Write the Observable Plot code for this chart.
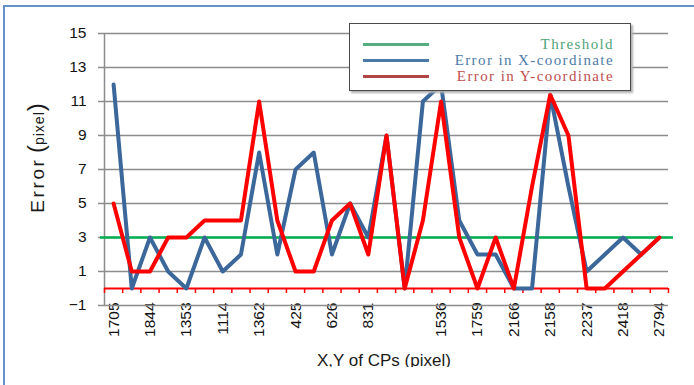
<!DOCTYPE html>
<html><head><meta charset="utf-8">
<script src="https://cdn.jsdelivr.net/npm/d3@7"></script>
<script src="https://cdn.jsdelivr.net/npm/@observablehq/plot@0.6"></script>
<style>
body{margin:0;background:#fff;}
#wrap{position:relative;width:694px;height:385px;overflow:hidden;background:#fff;font-family:"Liberation Sans",sans-serif;color:#111;}
#wrap svg{position:absolute;left:0;top:0;}
#frame{position:absolute;left:3px;top:5px;width:720px;height:420px;border-left:2px solid #6690c8;border-top:2px solid #6690c8;}
#legend{position:absolute;left:349px;top:23px;width:280px;height:66px;background:#fff;border:1.5px solid #4a4a4a;box-shadow:2px 2px 2px #b0b0b0;}
#legend .ln{position:absolute;left:13px;width:66px;height:3px;}
#legend .tx{position:absolute;right:16px;font-family:"Liberation Serif",serif;font-size:15px;letter-spacing:1.4px;line-height:16px;white-space:nowrap;opacity:.9;}
#ytitle{position:absolute;left:36px;top:158px;transform:translate(-50%,-50%) rotate(-90deg);white-space:nowrap;color:#1a1a1a;}
#xtitle{position:absolute;left:317px;top:351px;height:16px;overflow:hidden;font-size:17px;line-height:20px;white-space:nowrap;color:#1a1a1a;}
</style>
</head><body>
<div id="wrap">
  <div id="frame"></div>
  <div id="ytitle"><span style="font-size:19px;letter-spacing:2.6px">Error</span> <span style="font-size:24px">(</span><span style="font-size:14px;letter-spacing:1px">pixel</span><span style="font-size:24px">)</span></div>
  <div id="xtitle">X,Y of CPs (pixel)</div>
</div>
<script>
const tickLabels = ["1705","1844","1353","1114","1362","425","626","831","","1536","1759","2166","2158","2237","2418","2794"];
const errorX = [12,0,3,1,0,3,1,2,8,2,7,8,2,5,3,9,0,11,12,4,2,2,0,0,11.4,6,1,2,3,2,3];
const errorY = [5,1,1,3,3,4,4,4,11,4,1,1,4,5,2,9,0,4,11,3,0,3,0,6,11.4,9,0,0,1,2,3];
const threshold = 3;
const yTicks = [-1,1,3,5,7,9,11,13,15];
const seriesNames = ["Threshold","Error in X-coordinate","Error in Y-coordinate"];
const seriesColors = ["#00b050","#3b679a","#ff0000"];
const legendLineColors = ["#55ad80","#4a7ba6","#b04545"];
const legendTextColors = ["#3c9a68","#3a6e9e","#b83a3a"];

const n = errorX.length;
const idx = d3.range(1, n + 1);
const rows = idx.map(i => ({i, ex: errorX[i-1], ey: errorY[i-1]}));
const boundaries = d3.range(0, n + 1).map(k => k + 0.5);

const chart = Plot.plot({
  width: 694, height: 385,
  marginTop: 33, marginBottom: 80, marginLeft: 104, marginRight: 26,
  style: {fontFamily: "Liberation Sans, sans-serif", fontSize: "15.5px", color: "#111", background: "transparent", overflow: "visible"},
  x: {domain: [0.5, n + 0.5], ticks: idx.filter(i => i % 2 === 1), tickFormat: i => tickLabels[(i-1)/2], tickRotate: -90, tickSize: 0, tickPadding: -3, label: null},
  y: {domain: [-1, 15], ticks: yTicks, tickSize: 0, tickPadding: 18, label: null},
  marks: [
    Plot.ruleY(yTicks, {stroke: "#8c8c8c", strokeWidth: 1.5, insetLeft: -6}),
    Plot.ruleX([0.5], {stroke: "#8c8c8c", strokeWidth: 1.5}),
    Plot.ruleY([threshold], {stroke: seriesColors[0], strokeWidth: 2.5, insetLeft: -4, insetRight: -5}),
    Plot.ruleY([0], {stroke: "#ff0000", strokeWidth: 2}),
    Plot.ruleX(boundaries, {x: d => d, y1: 0, y2: 0, insetBottom: -5, stroke: "#ff0000", strokeWidth: 1.5}),
    Plot.lineY(rows, {x: "i", y: "ex", stroke: seriesColors[1], strokeWidth: 4}),
    Plot.lineY(rows, {x: "i", y: "ey", stroke: seriesColors[2], strokeWidth: 4})
  ]
});
const wrap = document.getElementById("wrap");
wrap.insertBefore(chart, wrap.firstChild);

const legend = document.createElement("div");
legend.id = "legend";
seriesNames.forEach((name, k) => {
  const ln = document.createElement("div");
  ln.className = "ln";
  ln.style.top = (19 + k * 16) + "px";
  ln.style.background = legendLineColors[k];
  legend.appendChild(ln);
  const tx = document.createElement("div");
  tx.className = "tx";
  tx.style.top = (12 + k * 16) + "px";
  tx.style.color = legendTextColors[k];
  tx.textContent = name;
  legend.appendChild(tx);
});
wrap.appendChild(legend);
</script>
</body></html>
